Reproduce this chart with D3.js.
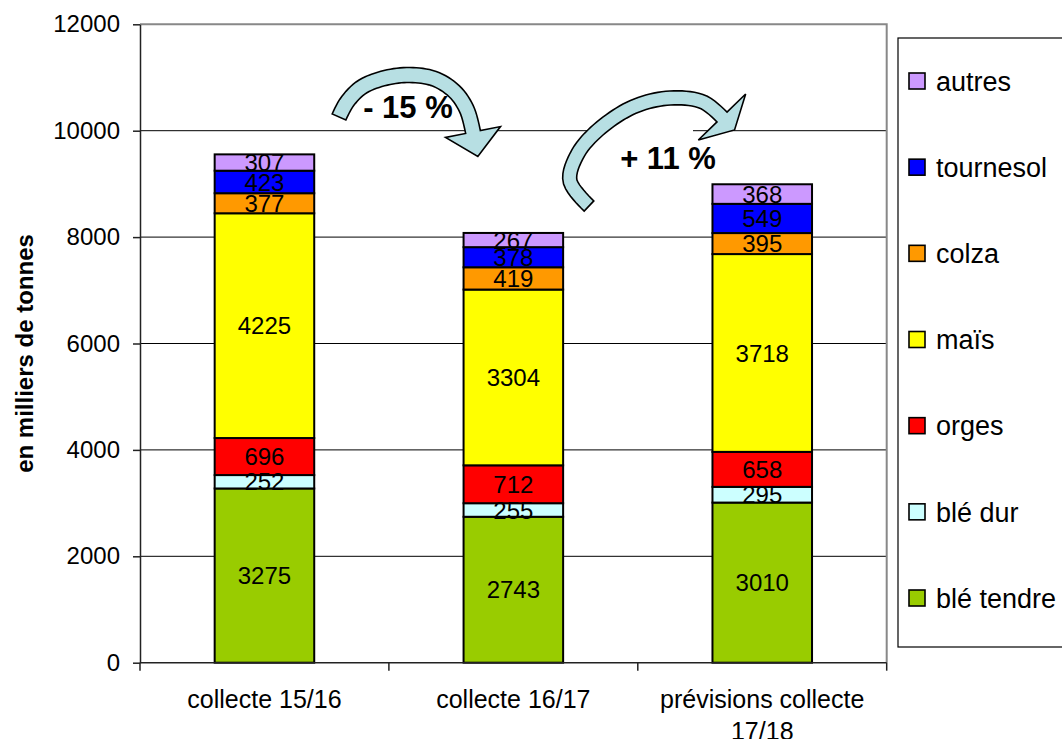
<!DOCTYPE html>
<html><head><meta charset="utf-8">
<script src="https://cdn.jsdelivr.net/npm/d3@7"></script>
<style>
html,body{margin:0;padding:0;background:#fff;overflow:hidden}
text{font-family:"Liberation Sans",Arial,sans-serif;fill:#000}
</style></head>
<body><svg id="c" width="1062" height="739"></svg>
<script>
// ---- data ----
const categories = ["collecte 15/16", "collecte 16/17", "prévisions collecte 17/18"];
const seriesNames = ["blé tendre", "blé dur", "orges", "maïs", "colza", "tournesol", "autres"];
const bleTendre = [3275, 2743, 3010];
const bleDur    = [252, 255, 295];
const orges     = [696, 712, 658];
const mais      = [4225, 3304, 3718];
const colza     = [377, 419, 395];
const tournesol = [423, 378, 549];
const autres    = [307, 267, 368];
const seriesColors = ["#99CC00", "#CCFFFF", "#FF0000", "#FFFF00", "#FF9900", "#0000FF", "#CC99FF"];
const yTicks = [0, 2000, 4000, 6000, 8000, 10000, 12000];
const yTitle = "en milliers de tonnes";
const annotations = ["- 15 %", "+ 11 %"];

const seriesValues = [bleTendre, bleDur, orges, mais, colza, tournesol, autres];
const rows = categories.map((c, i) => {
  const r = {cat: c};
  seriesNames.forEach((s, k) => r[s] = seriesValues[k][i]);
  return r;
});

const svg = d3.select("#c");
const L = 140, R = 886.7, T = 24.3, B = 662.7;
const x = d3.scaleBand().domain(categories).range([L, R]).paddingInner(0.6).paddingOuter(0.3);
const y = d3.scaleLinear().domain([0, 12000]).range([B, T]);
const color = d3.scaleOrdinal().domain(seriesNames).range(seriesColors);
const step = x.step();

// gridlines
svg.append("g").selectAll("line").data(yTicks.filter(d => d > 0 && d < 12000)).join("line")
  .attr("x1", L).attr("x2", R).attr("y1", d => y(d)).attr("y2", d => y(d))
  .attr("stroke", "#000").attr("stroke-width", 1);
// plot border top/right (gray)
svg.append("path").attr("d", `M${L},${y(12000)}H${R}V${B}`)
  .attr("fill", "none").attr("stroke", "#888").attr("stroke-width", 2);

// white box behind +11% text
svg.append("rect").attr("x", 597).attr("y", 124).attr("width", 96).attr("height", 60).attr("fill", "#fff");

// bars
const stack = d3.stack().keys(seriesNames)(rows);
const gBars = svg.append("g");
stack.forEach(layer => {
  gBars.append("g").selectAll("rect").data(layer).join("rect")
    .attr("x", d => x(d.data.cat))
    .attr("width", x.bandwidth())
    .attr("y", d => y(d[1]))
    .attr("height", d => y(d[0]) - y(d[1]))
    .attr("fill", color(layer.key))
    .attr("stroke", "#000").attr("stroke-width", 2);
});
stack.forEach(layer => {
  gBars.append("g").selectAll("text").data(layer).join("text")
    .attr("x", d => x(d.data.cat) + x.bandwidth() / 2)
    .attr("y", d => (y(d[0]) + y(d[1])) / 2)
    .attr("dy", "0.36em")
    .attr("text-anchor", "middle")
    .attr("font-size", 24)
    .text(d => d.data[layer.key]);
});

// y axis
const yAxis = svg.append("g").attr("transform", `translate(${L},0)`)
  .call(d3.axisLeft(y).tickValues(yTicks).tickFormat(d => d).tickSize(7).tickSizeOuter(0).tickPadding(13));
yAxis.select(".domain").attr("stroke", "#222").attr("stroke-width", 1.5);
yAxis.selectAll(".tick line").attr("stroke", "#222").attr("stroke-width", 1.5);
yAxis.selectAll(".tick text").attr("font-size", 24).attr("font-family", "Liberation Sans, Arial, sans-serif").attr("fill", "#000");

// x axis
svg.append("line").attr("x1", L).attr("x2", R).attr("y1", B).attr("y2", B)
  .attr("stroke", "#222").attr("stroke-width", 1.5);
svg.append("g").selectAll("line").data(d3.range(categories.length + 1)).join("line")
  .attr("x1", i => L + i * step).attr("x2", i => L + i * step)
  .attr("y1", B).attr("y2", B + 8).attr("stroke", "#222").attr("stroke-width", 1.5);

// x labels with wrapping
const xl = svg.append("g").selectAll("text").data(categories).join("text")
  .attr("x", d => x(d) + x.bandwidth() / 2)
  .attr("y", 708)
  .attr("text-anchor", "middle")
  .attr("font-size", 25);
xl.each(function(d) {
  const t = d3.select(this);
  const words = d.split(" ");
  let line = [], lines = [];
  const tmp = t.append("tspan");
  words.forEach(w => {
    const test = line.concat([w]).join(" ");
    tmp.text(test);
    if (tmp.node().getComputedTextLength() > step - 10 && line.length) {
      lines.push(line.join(" ")); line = [w];
    } else line.push(w);
  });
  lines.push(line.join(" "));
  tmp.remove();
  lines.forEach((ln, i) => t.append("tspan").attr("x", x(d) + x.bandwidth() / 2).attr("dy", i ? 32 : 0).text(ln));
});

// y title
svg.append("text")
  .attr("transform", `translate(33,${(T + B) / 2 + 10}) rotate(-90)`)
  .attr("text-anchor", "middle").attr("font-size", 24).attr("font-weight", "bold")
  .text(yTitle);

// legend
const legendOrder = seriesNames.slice().reverse();
const ly = d3.scalePoint().domain(legendOrder).range([81, 598]);
svg.append("rect").attr("x", 898).attr("y", 38).attr("width", 200).attr("height", 609)
  .attr("fill", "#fff").attr("stroke", "#000").attr("stroke-width", 1.2);
const lg = svg.append("g").selectAll("g").data(legendOrder).join("g")
  .attr("transform", d => `translate(909,${ly(d)})`);
lg.append("rect").attr("x", 0).attr("y", -8).attr("width", 16).attr("height", 16)
  .attr("fill", d => color(d)).attr("stroke", "#000").attr("stroke-width", 1.6);
lg.append("text").attr("x", 27).attr("dy", "0.36em").attr("font-size", 27).text(d => d);

// curved block arrows
function blockArrow(pts, hw, headHW, headLen) {
  const tmpPath = svg.append("path").attr("d", d3.line().curve(d3.curveCatmullRom)(pts)).attr("fill", "none");
  const node = tmpPath.node();
  const len = node.getTotalLength();
  const N = 60, outer = [], inner = [];
  for (let i = 0; i <= N; i++) {
    const s = len * i / N;
    const p = node.getPointAtLength(s);
    const a = node.getPointAtLength(Math.max(0, s - 0.5)), b = node.getPointAtLength(Math.min(len, s + 0.5));
    let tx = b.x - a.x, ty = b.y - a.y; const m = Math.hypot(tx, ty); tx /= m; ty /= m;
    outer.push([p.x + ty * hw, p.y - tx * hw]);
    inner.push([p.x - ty * hw, p.y + tx * hw]);
    if (i === N) {
      const hb1 = [p.x + ty * headHW, p.y - tx * headHW];
      const tip = [p.x + tx * headLen, p.y + ty * headLen];
      const hb2 = [p.x - ty * headHW, p.y + tx * headHW];
      outer.push(hb1, tip, hb2);
    }
  }
  tmpPath.remove();
  const poly = outer.concat(inner.reverse());
  svg.append("path").attr("d", "M" + poly.map(p => p.join(",")).join("L") + "Z")
    .attr("fill", "#B7DFE3").attr("stroke", "#000").attr("stroke-width", 1.6).attr("stroke-linejoin", "miter");
}
blockArrow([[339,117],[347,102],[362,87],[385,78],[410,75],[435,79],[455,92],[467,110],[473,132]], 7.5, 28, 25);
blockArrow([[589,206],[570,181],[577,155],[597,131],[633,107],[670,98],[703,102],[722,117]], 7, 33, 18);

svg.append("text").attr("x", 408).attr("y", 118).attr("text-anchor", "middle")
  .attr("font-size", 31).attr("font-weight", "bold").text(annotations[0]);
svg.append("text").attr("x", 668).attr("y", 169).attr("text-anchor", "middle")
  .attr("font-size", 31).attr("font-weight", "bold").text(annotations[1]);
</script></body></html>
